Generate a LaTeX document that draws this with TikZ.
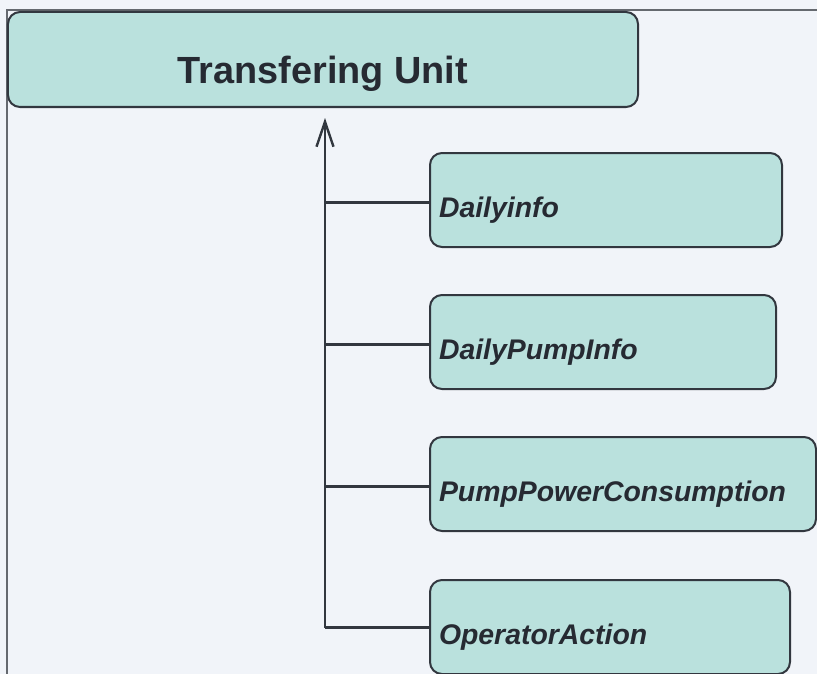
\documentclass[tikz,border=0pt]{standalone}
\usepackage{fontspec}
\setmainfont{Liberation Sans}
\usetikzlibrary{positioning, arrows.meta}

\definecolor{unitfill}{RGB}{186,225,221}
\definecolor{unitline}{RGB}{50,55,63}
\definecolor{unittext}{RGB}{38,42,50}
\definecolor{pagebg}{RGB}{241,244,249}

\begin{document}
\begin{tikzpicture}[x=1bp, y=-1bp,
    unit/.style={draw=unitline, fill=unitfill, line width=2bp, rounded corners=12bp,
      minimum height=94bp, inner xsep=9bp, inner ysep=0pt, text=unittext, text depth=0pt},
    table/.style={unit, align=left, font=\fontsize{28.5}{30}\selectfont\bfseries\itshape,
      text height=35.5bp, anchor=north west},
    link/.style={draw=unitline, line width=3bp},
    trunk/.style={draw=unitline, line width=2.4bp}]
      \fill[pagebg] (0,0) rectangle (817,674);
      \useasboundingbox (0,0) rectangle (817,674);
      \draw[unitline!75, line width=1.2bp] (817,10) -- (7,10) -- (7,674);
      \node[unit, minimum width=630bp, minimum height=95bp, text height=48bp,
        font=\fontsize{38}{40}\selectfont\bfseries] (tu) at (323,59.5) {Transfering Unit};
      \node[table, text width=334bp] (di) at (429,152) {Dailyinfo};
      \node[table, text width=328bp, below=46bp of di.south west, anchor=north west] (dp) {DailyPumpInfo};
      \node[table, text width=368bp, below=46bp of dp.south west, anchor=north west] (pc) {PumpPowerConsumption};
      \node[table, text width=342bp, below=47bp of pc.south west, anchor=north west] (oa) {OperatorAction};
      \coordinate (bus) at (325,0);
      \draw[trunk, -{Straight Barb[length=25bp, width=17bp, line width=2.4bp]}, shorten >=10bp]
        (oa.west) -| (tu.south -| bus);
      \draw[link] ([yshift=-2bp]di.west) -- ([yshift=-2bp]di.west -| bus);
      \draw[link] ([yshift=-2bp]dp.west) -- ([yshift=-2bp]dp.west -| bus);
      \draw[link] ([yshift=-2bp]pc.west) -- ([yshift=-2bp]pc.west -| bus);
      \draw[link] (oa.west) -- (oa.west -| bus);
\end{tikzpicture}
\end{document}
